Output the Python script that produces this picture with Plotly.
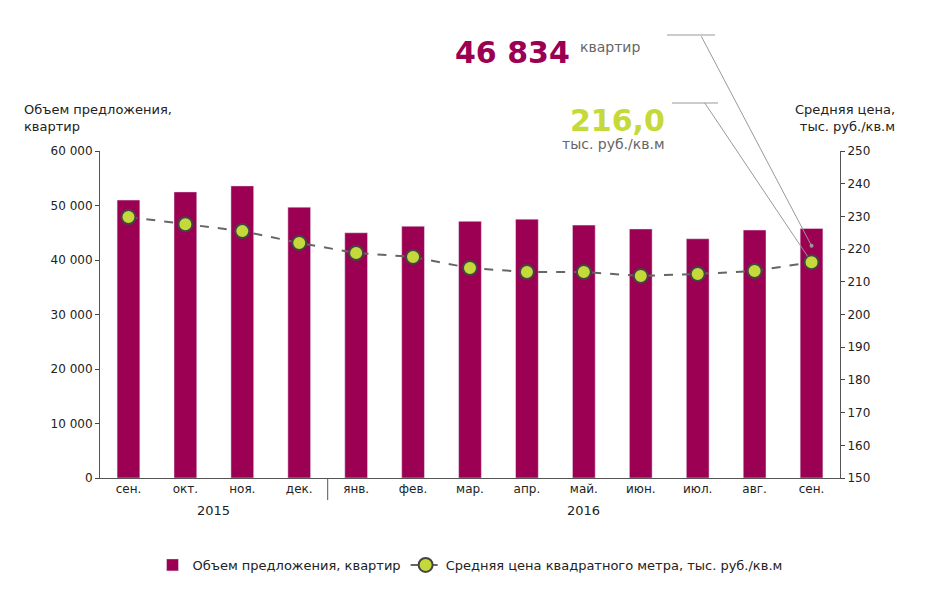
import plotly.graph_objects as go

months = ["сен.", "окт.", "ноя.", "дек.", "янв.", "фев.", "мар.", "апр.", "май.", "июн.", "июл.", "авг.", "сен."]
supply = [51000, 52500, 53600, 49700, 45000, 46200, 47100, 47500, 46400, 45700, 43900, 45500, 45800]
price = [229.8, 227.6, 225.5, 221.9, 218.8, 217.6, 214.2, 213.0, 213.0, 211.8, 212.4, 213.3, 216.0]
left_ticks = [0, 10000, 20000, 30000, 40000, 50000, 60000]
left_labels = ["0", "10 000", "20 000", "30 000", "40 000", "50 000", "60 000"]

BAR = "#9c0052"
GREEN = "#c5d93a"
GRAY = "#666666"
x = list(range(len(months)))

fig = go.Figure()
fig.add_trace(go.Bar(x=x, y=supply, name="Объем предложения, квартир",
                     marker_color=BAR, width=0.4))
fig.add_trace(go.Scatter(x=x, y=price, yaxis="y2", mode="lines+markers",
                         name="Средняя цена квадратного метра, тыс. руб./кв.м",
                         line=dict(color=GRAY, dash="dash", width=2),
                         marker=dict(size=14, color=GREEN, line=dict(color="#444444", width=2))))

def px(p):  # pixel x -> paper
    return (p - 100) / 740
def py(p):
    return (478 - p) / 327

fig.update_layout(
    width=945, height=595, margin=dict(l=92, r=113, t=143, b=125),
    plot_bgcolor="white", paper_bgcolor="white",
    font=dict(family="DejaVu Sans", size=12, color="#222222"),
    bargap=0.5,
    xaxis=dict(tickvals=x, ticktext=months, range=[-0.5, 12.5], showline=True,
               linecolor="#555555", ticks="", showgrid=False),
    yaxis=dict(range=[0, 60000], tickvals=left_ticks, ticktext=left_labels, showgrid=False,
               showline=True, linecolor="#555555", ticks="outside", ticklen=4, zeroline=False),
    yaxis2=dict(range=[150, 250], dtick=10, overlaying="y", side="right", showgrid=False,
                showline=True, linecolor="#555555", ticks="outside", ticklen=4),
    legend=dict(orientation="h", x=0.5, xanchor="center", y=-0.22, font=dict(size=13)),
    showlegend=True,
)

ann = [
    dict(x=1.5, xref="x", y=py(520), yref="paper", text="2015", showarrow=False, font=dict(size=13)),
    dict(x=8, xref="x", y=py(520), yref="paper", text="2016", showarrow=False, font=dict(size=13)),
    dict(x=px(22), y=py(100), xref="paper", yref="paper", xanchor="left", align="left",
         text="Объем предложения,<br>квартир", showarrow=False, font=dict(size=13)),
    dict(x=px(897), y=py(100), xref="paper", yref="paper", xanchor="right", align="right",
         text="Средняя цена,<br>тыс. руб./кв.м", showarrow=False, font=dict(size=13)),
    dict(x=px(572), y=py(33), xref="paper", yref="paper", xanchor="right",
         text="<b>46 834</b>", showarrow=False, font=dict(size=30, color=BAR)),
    dict(x=px(578), y=py(37), xref="paper", yref="paper", xanchor="left",
         text="квартир", showarrow=False, font=dict(size=14, color=GRAY)),
    dict(x=px(667), y=py(101), xref="paper", yref="paper", xanchor="right",
         text="<b>216,0</b>", showarrow=False, font=dict(size=30, color=GREEN)),
    dict(x=px(667), y=py(134), xref="paper", yref="paper", xanchor="right",
         text="тыс. руб./кв.м", showarrow=False, font=dict(size=14, color=GRAY)),
    dict(x=12, y=221, xref="x", yref="y2", ax=-111, ay=-211, axref="pixel", ayref="pixel",
         showarrow=True, arrowhead=6, arrowsize=1, arrowwidth=1, arrowcolor="#999999", text=""),
    dict(x=12, y=price[-1], xref="x", yref="y2", ax=-108, ay=-161, axref="pixel", ayref="pixel",
         showarrow=True, arrowhead=0, arrowwidth=1, arrowcolor="#999999", standoff=7, text=""),
]
fig.update_layout(annotations=ann)
fig.add_shape(type="line", xref="x", yref="paper", x0=3.5, x1=3.5, y0=0, y1=py(500),
              line=dict(color="#555555", width=1))
fig.add_shape(type="line", xref="paper", yref="paper", x0=px(667), x1=px(715), y0=py(35), y1=py(35),
              line=dict(color="#999999", width=1))
fig.add_shape(type="line", xref="paper", yref="paper", x0=px(672), x1=px(718), y0=py(103), y1=py(103),
              line=dict(color="#999999", width=1))

fig.write_html("out.html")
